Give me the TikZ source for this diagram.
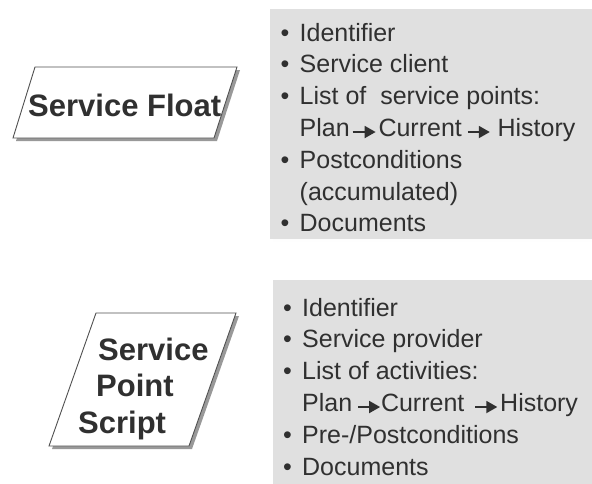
\documentclass[tikz,border=0pt]{standalone}
\usepackage{fontspec}
\setmainfont{Liberation Sans}
\usetikzlibrary{arrows.meta}

\definecolor{panel}{RGB}{224,224,224}
\definecolor{shade}{RGB}{153,153,153}
\definecolor{ink}{RGB}{48,48,48}
\definecolor{rim}{RGB}{80,80,80}

\newcommand{\itm}{\makebox[19pt][l]{•}}
\newcommand{\cnt}{\hspace*{19pt}}
\newcommand{\flowto}[1][23]{\tikz[baseline=-4.5pt]\draw[ink, line width=1.8pt, -{Triangle[length=11pt, width=12pt]}] (0pt,0pt) -- (#1pt,0pt);}

\tikzset{
  listtext/.style={anchor=north west, inner sep=0pt, align=left, text=ink,
    font=\fontsize{25}{31.8}\selectfont},
  titletext/.style={inner sep=0pt, align=left, text=ink,
    font=\bfseries\fontsize{31}{36.5}\selectfont},
  card/.style={fill=white, draw=rim, line width=0.9pt},
  cardshade/.style={fill=shade, draw=none}
}

\begin{document}
\begin{tikzpicture}[x=1pt, y=-1pt]
    \useasboundingbox (0,0) rectangle (592,483);

    % panels
    \fill[shade] (273,12) rectangle (596,242);
    \fill[panel] (270,9) rectangle (592,239);
    \fill[panel] (273,280) rectangle (592,486);

    % cards
    \fill[cardshade] (38,70) -- (240,70) -- (217,141) -- (16,141) -- cycle;
    \draw[card] (35,67) -- (237,67) -- (214,138) -- (13,138) -- cycle;
    \fill[cardshade] (99,316) -- (239,316) -- (192,449) -- (52,449) -- cycle;
    \draw[card] (96,313) -- (236,313) -- (189,446) -- (49,446) -- cycle;

    % Define nodes
    \node[titletext, anchor=base west]		(float)		at (28,116) {Service Float};
    \node[titletext, anchor=north west]		(script)	at (78,337.5)
        {\hspace*{20pt}Service\\\hspace*{18pt}Point\\Script};

    \node[listtext]		(floatlist)		at (280.5,22.8)
        {\itm Identifier\\
         \itm Service client\\
         \itm List of\ \ service points:\\
         \cnt Plan\hspace{2pt}\flowto[23]\hspace{2pt}Current\hspace{5pt}\flowto[22]\ History\\
         \itm Postconditions\\
         \cnt (accumulated)\\
         \itm Documents};
    \node[listtext]		(scriptlist)	at (283,297.8)
        {\itm Identifier\\
         \itm Service provider\\
         \itm List of activities:\\
         \cnt Plan\hspace{5pt}\flowto[22]Current\hspace{10pt}\flowto[22]\hspace{2pt}History\\
         \itm Pre-/Postconditions\\
         \itm Documents};
\end{tikzpicture}
\end{document}
